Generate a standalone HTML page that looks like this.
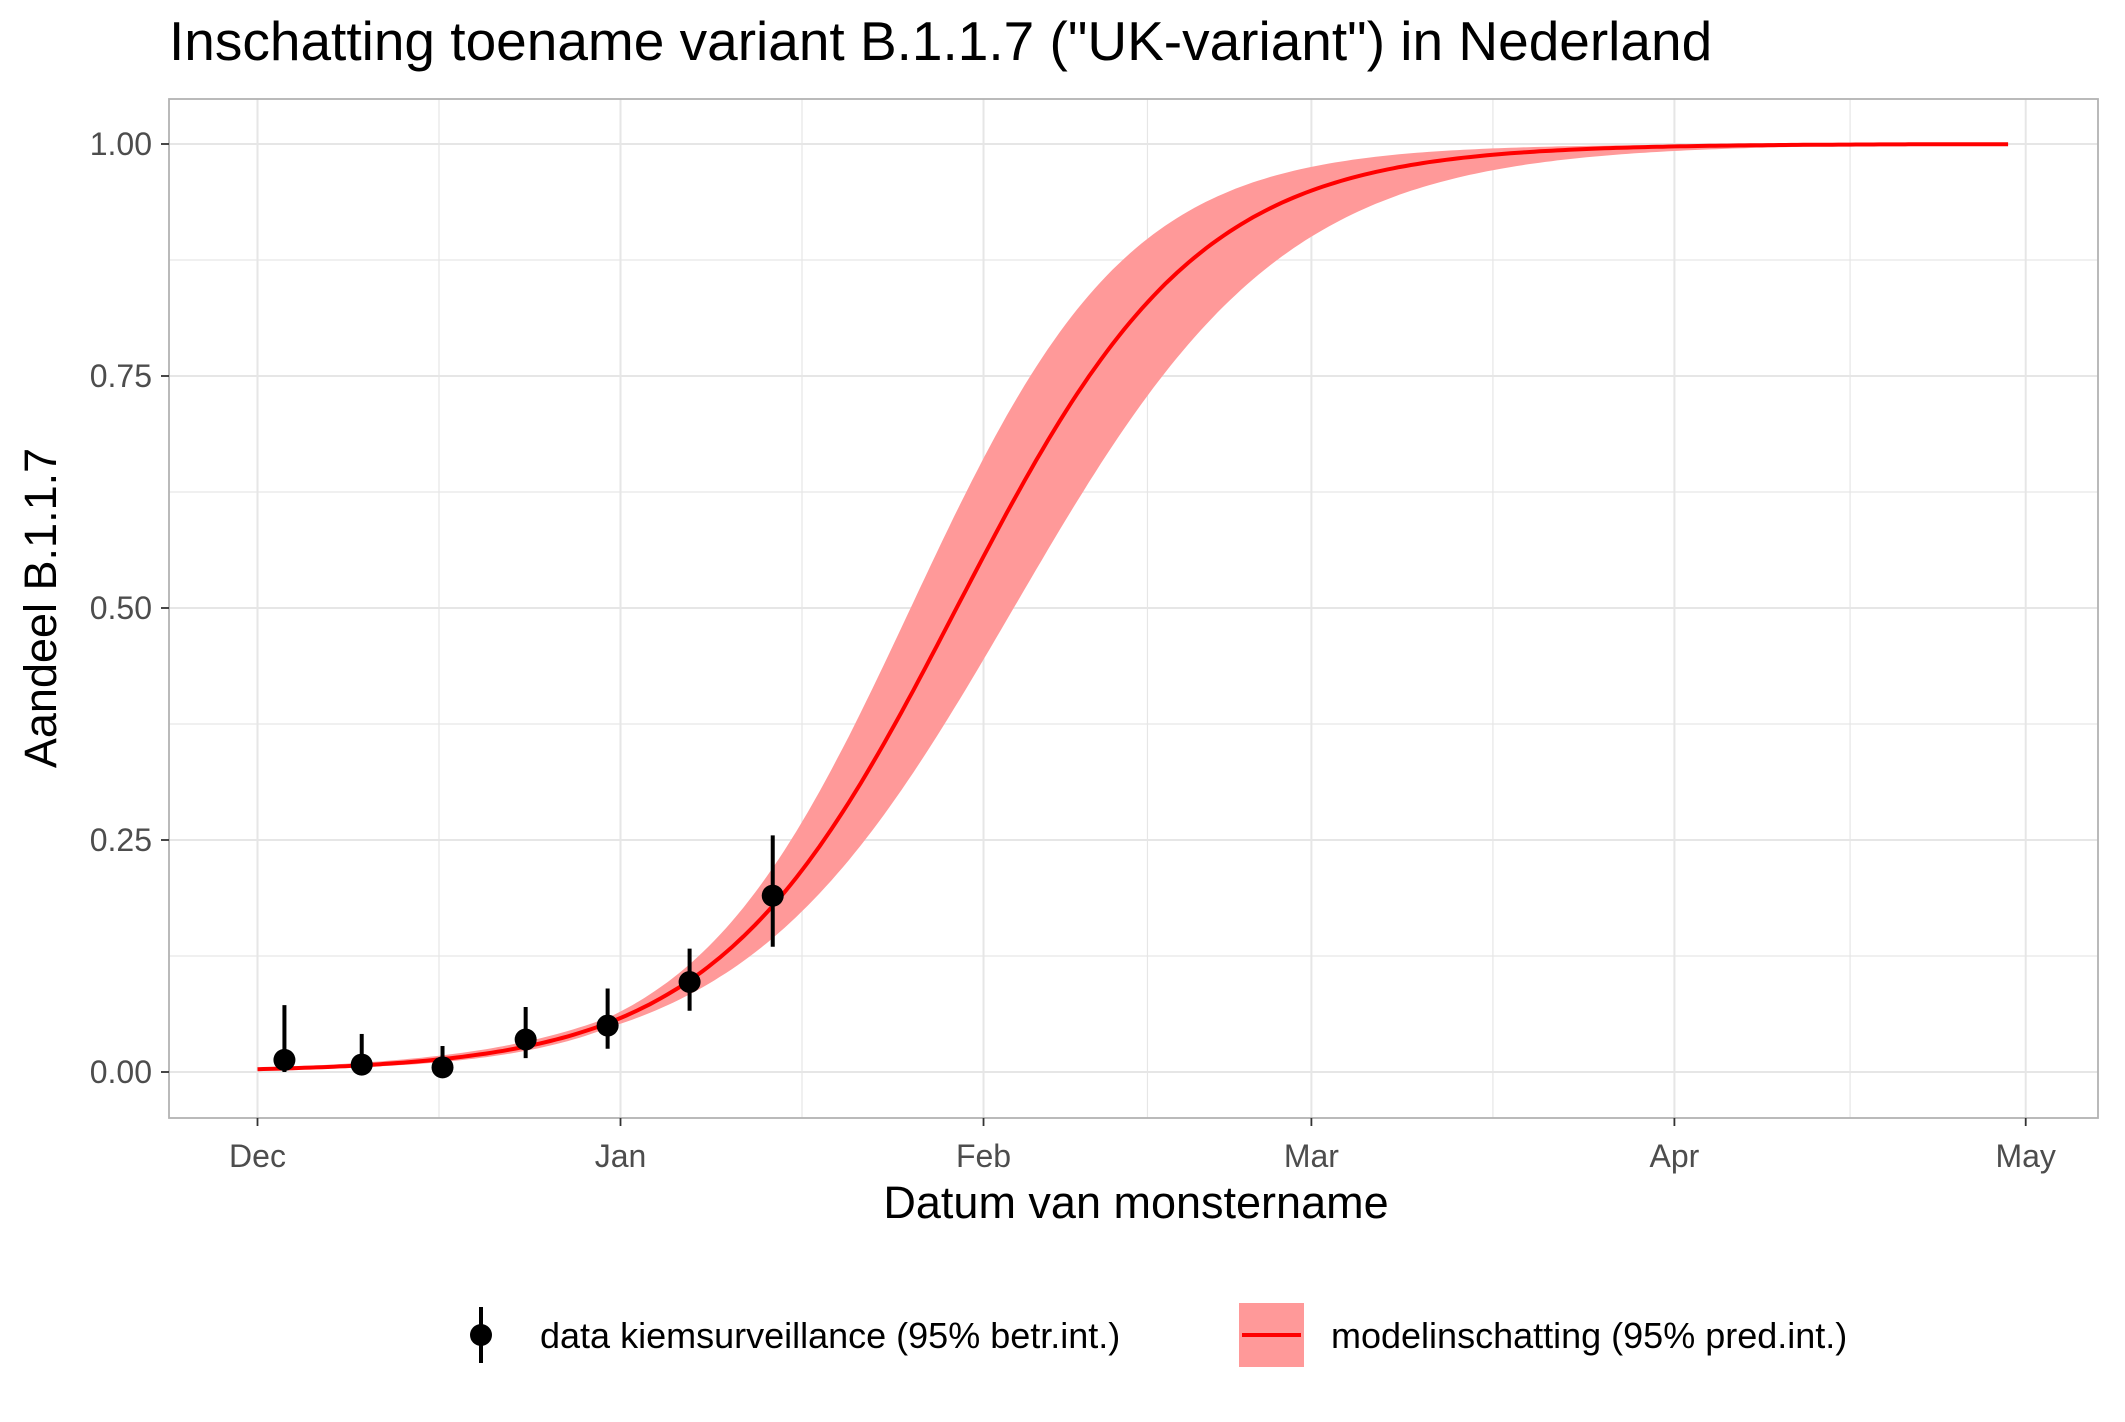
<!DOCTYPE html>
<html><head><meta charset="utf-8"><style>
html,body{margin:0;padding:0;background:#fff}
svg text{font-family:"Liberation Sans",Arial,sans-serif}
</style></head><body>
<svg id="s" width="2125" height="1417" viewBox="0 0 2125 1417" xmlns="http://www.w3.org/2000/svg">
<rect width="2125" height="1417" fill="#fff"/>
<text x="169" y="60" font-size="55" fill="#000">Inschatting toename variant B.1.1.7 ("UK-variant") in Nederland</text>
<g id="grid"></g>
<path id="band" fill="#ff9999" stroke="none"/>
<path id="line" fill="none" stroke="#ff0000" stroke-width="4"/>
<g id="pts"></g>
<rect x="169" y="99" width="1929" height="1019" fill="none" stroke="#b3b3b3" stroke-width="1.8"/>
<g id="ticks" font-size="32" fill="#4d4d4d"></g>
<text x="1136" y="1218" font-size="45" text-anchor="middle" fill="#000">Datum van monstername</text>
<text transform="translate(56,608) rotate(-90)" font-size="45" text-anchor="middle" fill="#000">Aandeel B.1.1.7</text>
<line x1="481" y1="1307" x2="481" y2="1363" stroke="#000" stroke-width="4"/>
<circle cx="481" cy="1335" r="11" fill="#000"/>
<text x="540" y="1348" font-size="36" fill="#000">data kiemsurveillance (95% betr.int.)</text>
<rect x="1239" y="1303" width="65" height="64" fill="#ff9999"/>
<line x1="1242" y1="1335" x2="1301" y2="1335" stroke="#ff0000" stroke-width="4"/>
<text x="1331" y="1348" font-size="36" fill="#000">modelinschatting (95% pred.int.)</text>
</svg>
<script>
var NS="http://www.w3.org/2000/svg";
function X(d){return 257.5+d*11.71}
function Y(p){return 1072-p*928}
function el(t,a,parent){var e=document.createElementNS(NS,t);for(var k in a)e.setAttribute(k,a[k]);document.getElementById(parent).appendChild(e);return e}
for(var i=0;i<=8;i++){var p=i*0.125,y=Y(p);el("line",{x1:169,x2:2098,y1:y,y2:y,stroke:"#e6e6e6","stroke-width":i%2?1.2:2},"grid")}
var maj=[0,31,62,90,121,151],lab=["Dec","Jan","Feb","Mar","Apr","May"];
for(var i=0;i<maj.length;i++){var x=X(maj[i]);el("line",{x1:x,x2:x,y1:99,y2:1118,stroke:"#e6e6e6","stroke-width":2},"grid");
 if(i<maj.length-1){var xm=X((maj[i]+maj[i+1])/2);el("line",{x1:xm,x2:xm,y1:99,y2:1118,stroke:"#e6e6e6","stroke-width":1.2},"grid")}
 el("line",{x1:x,x2:x,y1:1118,y2:1126,stroke:"#333","stroke-width":1.8},"ticks");
 var t=el("text",{x:x,y:1167,"text-anchor":"middle"},"ticks");t.textContent=lab[i];}
var yl=["0.00","0.25","0.50","0.75","1.00"];
for(var i=0;i<5;i++){var y=Y(i*0.25);el("line",{x1:161,x2:169,y1:y,y2:y,stroke:"#333","stroke-width":1.8},"ticks");
 var t=el("text",{x:152,y:y+11,"text-anchor":"end"},"ticks");t.textContent=yl[i];}
var k=0.097,m=59.7;function L(z){return 1/(1+Math.exp(-z))}
function w(t){return 0.11+0.0105*Math.abs(t-30)}
var up=[],lo=[],ln=[];
for(var t=0;t<=149.8;t+=0.5){var z=k*(t-m);ln.push(X(t).toFixed(1)+","+Y(L(z)).toFixed(1));up.push(X(t).toFixed(1)+","+Y(L(z+w(t))).toFixed(1));lo.push(X(t).toFixed(1)+","+Y(L(z-w(t))).toFixed(1));}
document.getElementById("line").setAttribute("d","M"+ln.join("L"));
document.getElementById("band").setAttribute("d","M"+up.join("L")+"L"+lo.reverse().join("L")+"Z");
var d=[[2.3,0.013,0,0.072],[8.9,0.008,0,0.041],[15.8,0.005,0,0.028],[22.9,0.035,0.015,0.07],[29.9,0.05,0.025,0.09],[36.9,0.097,0.066,0.133],[44,0.19,0.135,0.255]];
d.forEach(function(a){var x=X(a[0]);el("line",{x1:x,x2:x,y1:Y(a[2]),y2:Y(a[3]),stroke:"#000","stroke-width":4},"pts");el("circle",{cx:x,cy:Y(a[1]),r:11,fill:"#000"},"pts")});
</script>
</body></html>
